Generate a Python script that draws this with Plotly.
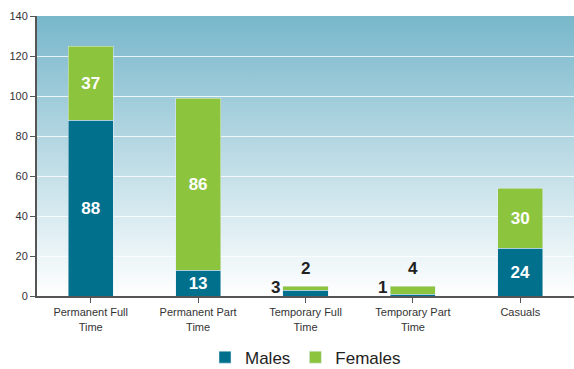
import base64
import plotly.graph_objects as go

categories = ["Permanent Full<br>Time", "Permanent Part<br>Time", "Temporary Full<br>Time",
              "Temporary Part<br>Time", "Casuals"]
males = [88, 13, 3, 1, 24]
females = [37, 86, 2, 4, 30]
y_ticks = [0, 20, 40, 60, 80, 100, 120, 140]

MALE_COLOR = "#00708d"
FEMALE_COLOR = "#8cc43e"
BAR_WIDTH = 0.42
SMALL = 10  # values below this are labelled outside the bar
FONT = "Liberation Sans, Arial, Helvetica, sans-serif"

x = list(range(len(categories)))

def inside_text(vals):
    return [str(v) if v >= SMALL else "" for v in vals]

fig = go.Figure()
fig.add_trace(go.Bar(
    x=x, y=males, name="Males", marker_color=MALE_COLOR, width=BAR_WIDTH,
    text=inside_text(males), textposition="inside", insidetextanchor="middle", textangle=0,
    textfont=dict(color="white", size=17, family=FONT, weight="bold"),
    constraintext="none", hoverinfo="skip",
))
fig.add_trace(go.Bar(
    x=x, y=females, name="Females", marker_color=FEMALE_COLOR, width=BAR_WIDTH,
    text=inside_text(females), textposition="inside", insidetextanchor="middle", textangle=0,
    textfont=dict(color="white", size=17, family=FONT, weight="bold"),
    constraintext="none", hoverinfo="skip",
))

# outside labels for the short stacks: males to the left, females on top
for i, (m, f) in enumerate(zip(males, females)):
    if m < SMALL:
        fig.add_annotation(x=i - BAR_WIDTH / 2, y=0, text=f"<b>{m}</b>", showarrow=False,
                           xanchor="right", yanchor="bottom", xshift=-1, yshift=-3,
                           font=dict(size=17, color="#222222", family=FONT))
    if f < SMALL:
        fig.add_annotation(x=i, y=m + f, text=f"<b>{f}</b>", showarrow=False,
                           xanchor="center", yanchor="bottom", yshift=6,
                           font=dict(size=17, color="#222222", family=FONT))

# vertical gradient behind the plotting area
svg = ('<svg xmlns="http://www.w3.org/2000/svg" width="10" height="100" preserveAspectRatio="none">'
       '<defs><linearGradient id="g" x1="0" y1="0" x2="0" y2="1">'
       '<stop offset="0" stop-color="#78b7cb"/><stop offset="1" stop-color="#ffffff"/>'
       '</linearGradient></defs><rect width="10" height="100" fill="url(#g)"/></svg>')
src = "data:image/svg+xml;base64," + base64.b64encode(svg.encode()).decode()
fig.add_layout_image(source=src, xref="x", yref="y", x=-0.5, y=140, sizex=5, sizey=140,
                     sizing="stretch", layer="below", xanchor="left", yanchor="top")

fig.update_layout(
    barmode="stack",
    width=574, height=369,
    margin=dict(l=37, r=0, t=16, b=73, autoexpand=False),
    paper_bgcolor="white",
    plot_bgcolor="rgba(0,0,0,0)",
    font=dict(family=FONT, color="#333333"),
    showlegend=True,
    legend=dict(orientation="h", x=0.5, xanchor="center", y=-0.22, yanchor="middle",
                font=dict(size=17, color="#222222"), itemwidth=30,
                traceorder="normal"),
)
fig.update_xaxes(
    range=[-0.5, len(categories) - 0.5], tickmode="array", tickvals=x, ticktext=categories,
    tickson="boundaries", ticks="outside", ticklen=5, tickcolor="#555555",
    showline=True, linecolor="#555555", linewidth=2, showgrid=False,
    tickfont=dict(size=11, color="#333333"),
)
fig.update_yaxes(
    range=[0, 140], tickvals=y_ticks, ticks="outside", ticklen=5, tickcolor="#555555",
    showline=True, linecolor="#555555", linewidth=2,
    showgrid=True, gridcolor="rgba(255,255,255,0.8)", gridwidth=1, zeroline=False,
    tickfont=dict(size=11, color="#333333"),
)

fig.write_html("out.html")
